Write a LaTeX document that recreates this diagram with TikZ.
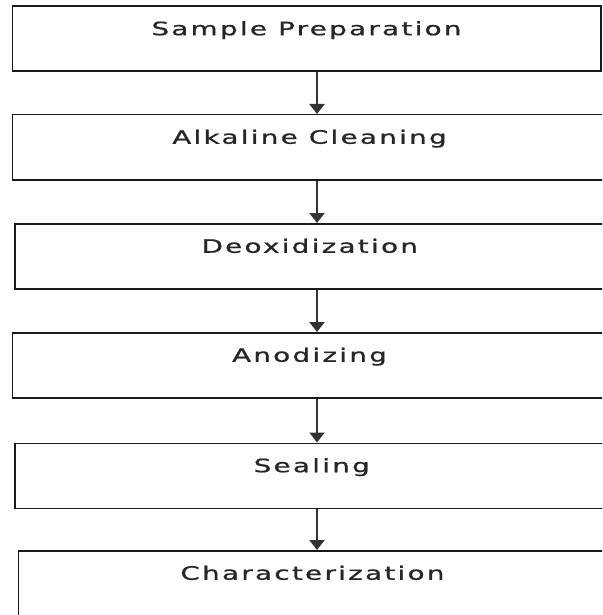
\documentclass[tikz,border=0pt]{standalone}
\usepackage{fontspec}
\usepackage{tikz}
\usetikzlibrary{arrows.meta, positioning}
\newfontfamily\stepfont[LetterSpace=8.3,FakeBold=0.8]{DejaVu Sans}
\newcommand{\widetext}[1]{\scalebox{1.5}[1]{#1}}

\begin{document}
\begin{tikzpicture}[x=1pt,y=-1pt,
    stagebox/.style={draw=black!90,line width=1.5pt,anchor=north west,inner sep=0pt,
        text height=29pt,text depth=36pt,text=black!85,
        font=\stepfont\fontsize{18.5}{20}\selectfont},
    flow/.style={-{Triangle[width=15pt,length=10pt]},line width=2pt,draw=black!80}]
    \clip (0,0) rectangle (602,615); %枠
    \coordinate (spine) at (317,0); %矢印の位置
    \node[stagebox,minimum width=588.5pt] (prep) at (11.5,5.5) {\widetext{Sample Preparation}}; %工程1
    \node[stagebox,minimum width=594.5pt] (clean) at (11.5,114) {\widetext{Alkaline Cleaning}}; %工程2
    \node[stagebox,minimum width=590pt] (deox) at (14,223) {\widetext{Deoxidization}}; %工程3
    \node[stagebox,minimum width=594.5pt] (anod) at (11.5,332) {\widetext{Anodizing}}; %工程4
    \node[stagebox,minimum width=594pt] (seal) at (14,442.5) {\widetext{Sealing}}; %工程5
    \node[stagebox,minimum width=588.5pt] (char) at (17.5,550) {\widetext{Characterization}}; %工程6
    \draw[flow] (prep.south -| spine) -- (clean.north -| spine);
    \draw[flow] (clean.south -| spine) -- (deox.north -| spine);
    \draw[flow] (deox.south -| spine) -- (anod.north -| spine);
    \draw[flow] (anod.south -| spine) -- (seal.north -| spine);
    \draw[flow] (seal.south -| spine) -- (char.north -| spine);
\end{tikzpicture}
\end{document}
